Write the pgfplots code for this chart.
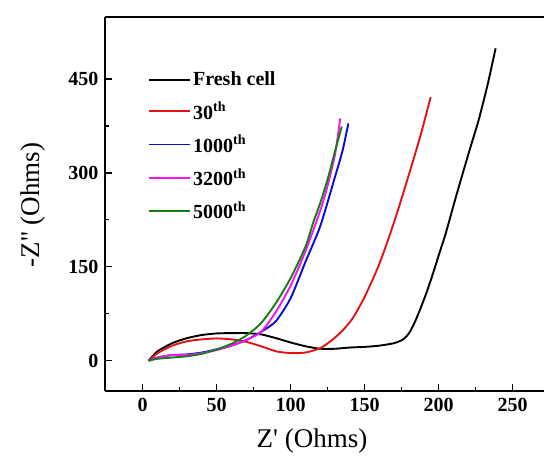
\documentclass[border=0pt]{standalone}
\usepackage{fontspec}
\setmainfont{Liberation Serif}
\usepackage{pgfplots}
\pgfplotsset{compat=1.18}

\definecolor{cRed}{RGB}{225,20,20}
\definecolor{cBlue}{RGB}{10,10,215}
\definecolor{cMag}{RGB}{245,20,245}
\definecolor{cGreen}{RGB}{20,125,20}

\begin{document}
\begin{tikzpicture}
\useasboundingbox (-105pt,-75.3pt) rectangle (439pt,390.7pt);
\begin{axis}[
    at={(0pt,0pt)}, anchor=south west,
    scale only axis,
    width=439pt, height=374pt,
    xmin=-25.5, xmax=271.2,
    ymin=-48, ymax=549.5,
    axis x line*=box,
    axis y line*=left,
    xtick={0,50,...,250},
    ytick={0,150,300,450},
    minor x tick num=1,
    minor y tick num=1,
    xtick pos=lower, ytick pos=left,
    tick align=inside,
    major tick length=7pt, minor tick length=4pt,
    every tick/.style={line width=1.3pt, black},
    axis line style={line width=1.8pt},
    /pgf/number format/assume math mode=true,
    tick label style={font=\bfseries\fontsize{20}{22}\selectfont},
    xticklabel style={yshift=-4pt},
    yticklabel style={xshift=-3pt},
    xlabel={Z\textquotesingle{} (Ohms)},
    ylabel={-Z\textquotesingle\textquotesingle{} (Ohms)},
    label style={font=\fontsize{27}{30}\selectfont},
    xlabel style={at={(axis description cs:0.4715,-0.135)}, anchor=center},
    ylabel style={at={(axis description cs:-0.164,0.4965)}, anchor=center, rotate=0},
    legend cell align=left,
    legend style={draw=none, fill=none, at={(axis description cs:0.098,0.858)},
        anchor=north west, inner sep=0pt, row sep=10.5pt,
        font=\bfseries\fontsize{20}{22}\selectfont},
    legend image code/.code={\draw[#1, line width=1.9pt] (0pt,0pt) -- (41pt,0pt);},
    every axis plot/.append style={line width=1.9pt, smooth, tension=0.4},
]
\addplot[black] coordinates {
    (4,0) (10,15) (20,28) (30,36) (40,41) (50,43.5) (60,44) (70,44) (80,42)
    (90,36) (100,29) (110,23) (120,19) (130,19) (140,21) (150,22) (160,24)
    (170,28) (176,34) (180,44) (184,62) (188,85) (192,110) (196,138) (200,168)
    (205,205) (211,256) (217,305) (222,345) (227,384) (233,440) (238.5,499)
};
\addlegendentry{Fresh cell}
\addplot[cRed] coordinates {
    (4,0) (10,12) (20,24) (30,31) (40,34) (50,35.5) (60,34) (70,30) (80,23)
    (90,15) (100,12) (110,13) (120,20) (128,33) (135,48) (142,68) (150,102) (160,155)
    (170,222) (180,298) (188,362) (194.6,421)
};
\addlegendentry{30\textsuperscript{th}}
\addplot[cBlue] coordinates {
    (4,0) (10,5) (20,9) (30,10) (40,13) (50,18) (60,24) (70,33) (80,46)
    (90,63) (100,100) (110,158) (120,215) (130,294) (135,335) (139,379)
};
\addlegendentry{1000\textsuperscript{th}}
\addplot[cMag] coordinates {
    (4,0) (10,5) (20,9) (30,9) (40,12) (50,17) (60,24) (70,33) (80,46)
    (90,78) (100,120) (110,175) (120,240) (125,280) (130,330) (133.5,387)
};
\addlegendentry{3200\textsuperscript{th}}
\addplot[cGreen] coordinates {
    (4,0) (10,3) (20,5) (30,7) (40,11) (50,18) (60,27) (70,40) (80,60)
    (90,92) (100,132) (110,182) (115,219) (120,252) (125,290) (130,335) (134.5,374)
};
\addlegendentry{5000\textsuperscript{th}}
\end{axis}
\end{tikzpicture}
\end{document}
